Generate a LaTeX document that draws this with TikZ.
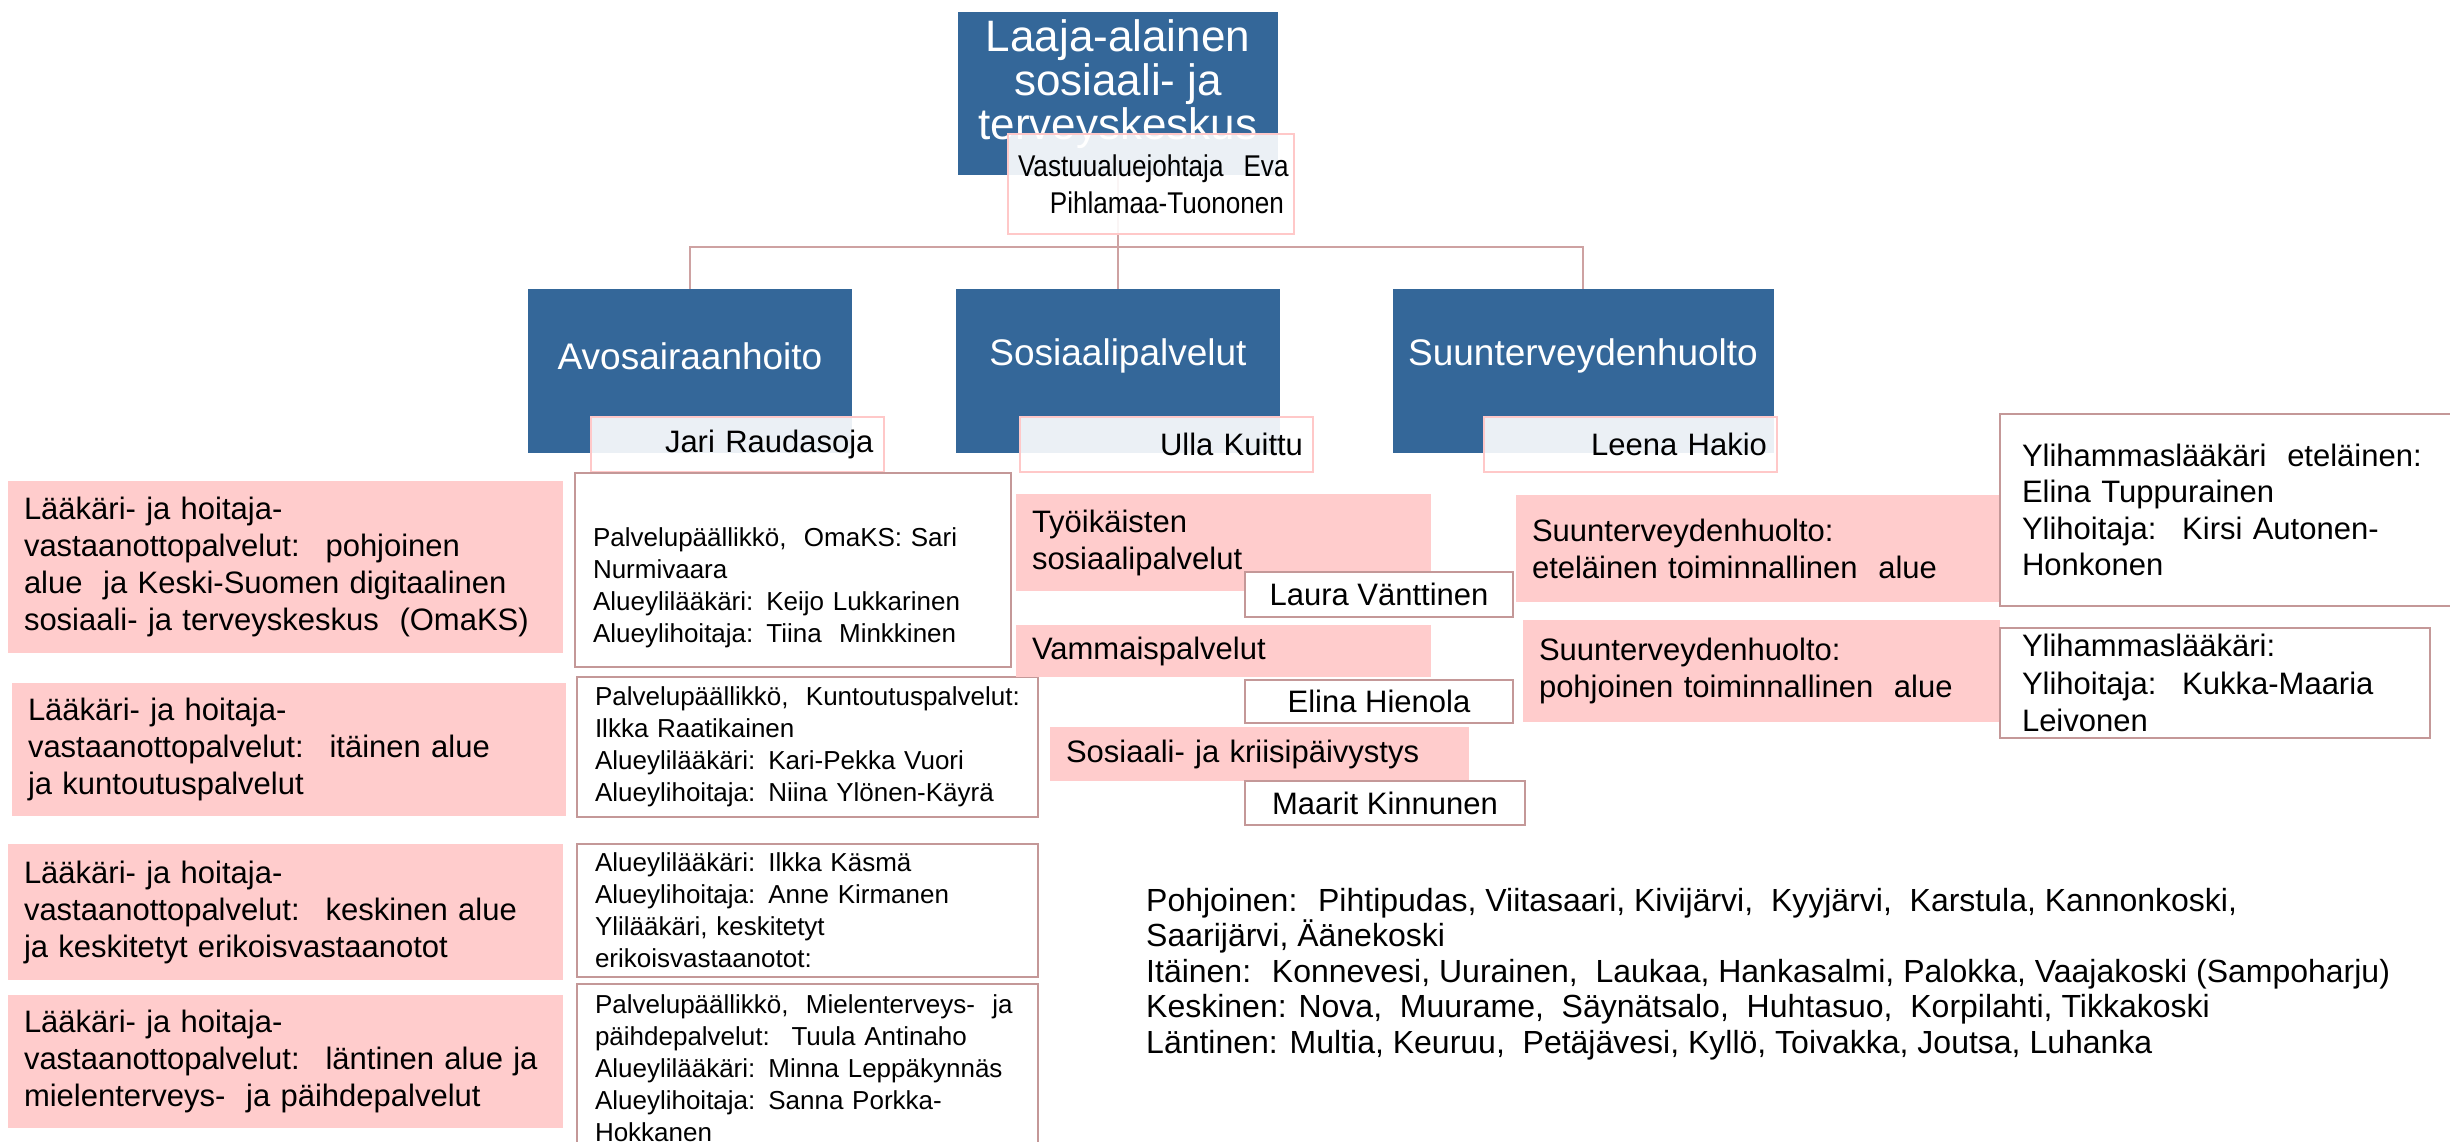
\documentclass[tikz,border=0pt]{standalone}
\usepackage{fontspec}
\setmainfont{Liberation Sans}
\newfontfamily\narrowsans{Liberation Sans}[FakeStretch=0.87]
\usepackage{tikz}

\definecolor{orgblue}{RGB}{52,103,153}
\definecolor{orgpink}{RGB}{255,204,204}
\definecolor{asstline}{RGB}{255,200,200}
\definecolor{infoline}{RGB}{196,152,152}
\definecolor{connline}{RGB}{206,162,162}

\tikzset{
  bluebox/.style={fill=orgblue,draw=none,inner sep=0,minimum width=324,minimum height=164},
  bluetext/.style={text=white,inner sep=0,font=\fontsize{37}{44}\selectfont},
  asstbox/.style={draw=asstline,line width=2,fill=white,fill opacity=0.9,text opacity=1,align=right,inner xsep=10,inner ysep=0,font=\fontsize{31}{37}\selectfont},
  pinkbox/.style={fill=orgpink,draw=none,align=left,inner xsep=16,inner ysep=0,font=\fontsize{31}{37}\selectfont},
  infobox/.style={draw=infoline,line width=2.5,fill=white,align=left,inner xsep=18,inner ysep=0,font=\fontsize{26}{32}\selectfont},
  namebox/.style={draw=infoline,line width=2.5,fill=white,inner sep=0,font=\fontsize{31}{37}\selectfont},
  conn/.style={draw=connline,line width=2.5}
}

\begin{document}
\begin{tikzpicture}[x=1pt,y=-1pt]
\useasboundingbox (0,0) rectangle (2450,1141);

% top of the chart
\node (top) at (1118,93.5) [bluebox,minimum width=320,minimum height=163] {};
\node (toplbl) at (1118,84) [bluetext,align=center,font=\fontsize{44}{44}\selectfont] {Laaja-alainen\\sosiaali- ja\\terveyskeskus};

% level 2 boxes
\node (avo) at (690,371) [bluebox] {};
\node (avolbl) at (690,356) [bluetext] {Avosairaanhoito};
\node (sos) at (1118,371) [bluebox] {};
\node (soslbl) at (1118,356) [bluetext] {Sosiaalipalvelut};
\node (suu) at (1583,371) [bluebox,minimum width=381] {};
\node (suulbl) at (1583,356) [bluetext] {Suunterveydenhuolto};

\coordinate (bus) at (1118,247);
\draw [conn] (top.south) -- (bus);
\draw [conn] (bus) -| (avo.north);
\draw [conn] (bus) -- (sos.north);
\draw [conn] (bus) -| (suu.north);

\node (eva) at (1151,184) [asstbox,text width=266,minimum height=100,font=\narrowsans\fontsize{30}{37}\selectfont] {Vastuualuejohtaja~ Eva\\\mbox{Pihlamaa-Tuononen}};
\node (jari) at (737,444.5) [asstbox,text width=273,minimum height=55] {Jari Raudasoja};
\node (ulla) at (1166.5,444.5) [asstbox,text width=273,minimum height=55] {Ulla Kuittu};
\node (leena) at (1630.5,444.5) [asstbox,text width=273,minimum height=55] {Leena Hakio};

% avosairaanhoito
\node (lvo1) at (285.5,567) [pinkbox,text width=523,minimum height=172] {L\"a\"ak\"ari- ja hoitaja-\\vastaanottopalvelut:~ pohjoinen\\alue~ ja Keski-Suomen digitaalinen\\sosiaali- ja terveyskeskus~ (OmaKS)};
\node (lvo2) at (289,749.5) [pinkbox,text width=522,minimum height=133] {L\"a\"ak\"ari- ja hoitaja-\\vastaanottopalvelut:~ it\"ainen alue\\ja kuntoutuspalvelut};
\node (lvo3) at (285.5,912) [pinkbox,text width=523,minimum height=136] {L\"a\"ak\"ari- ja hoitaja-\\vastaanottopalvelut:~ keskinen alue\\ja keskitetyt erikoisvastaanotot};
\node (lvo4) at (285.5,1061.5) [pinkbox,text width=523,minimum height=133] {L\"a\"ak\"ari- ja hoitaja-\\vastaanottopalvelut:~ l\"antinen alue ja\\mielenterveys-~ ja p\"aihdepalvelut};

\node (inf1) at (793,570) [infobox,text width=400,minimum height=194] {\strut\\Palvelup\"a\"allikk\"o,~ OmaKS: Sari\\Nurmivaara\\Alueylil\"a\"ak\"ari: Keijo Lukkarinen\\Alueylihoitaja: Tiina~ Minkkinen};
\node (inf2) at (807.5,747) [infobox,text width=425,minimum height=140] {Palvelup\"a\"allikk\"o,~ Kuntoutuspalvelut:\\Ilkka Raatikainen\\Alueylil\"a\"ak\"ari: Kari-Pekka Vuori\\Alueylihoitaja: Niina Yl\"onen-K\"ayr\"a};
\node (inf3) at (807.5,910.5) [infobox,text width=425,minimum height=133] {Alueylil\"a\"ak\"ari: Ilkka K\"asm\"a\\Alueylihoitaja: Anne Kirmanen\\Ylil\"a\"ak\"ari, keskitetyt\\erikoisvastaanotot:};
\node (inf4) at (807.5,1068) [infobox,text width=425,minimum height=168] {Palvelup\"a\"allikk\"o,~ Mielenterveys-~ ja\\p\"aihdepalvelut:~ Tuula Antinaho\\Alueylil\"a\"ak\"ari: Minna Lepp\"akynn\"as\\Alueylihoitaja: Sanna Porkka-\\Hokkanen};

% sosiaalipalvelut
\node (tyo) at (1223.5,542.5) [pinkbox,text width=383,minimum height=97] {Ty\"oik\"aisten\\sosiaalipalvelut};
\node (laura) at (1379,594.5) [namebox,minimum width=268,minimum height=45] {Laura V\"anttinen};
\node (vam) at (1223.5,651) [pinkbox,text width=383,minimum height=52] {Vammaispalvelut};
\node (elina) at (1379,701.5) [namebox,minimum width=268,minimum height=43] {Elina Hienola};
\node (kri) at (1259.5,754) [pinkbox,text width=387,minimum height=54] {Sosiaali- ja kriisip\"aivystys};
\node (maarit) at (1385,803) [namebox,minimum width=280,minimum height=44] {Maarit Kinnunen};

% suunterveydenhuolto
\node (etel) at (1758,548.5) [pinkbox,text width=452,minimum height=107] {Suunterveydenhuolto:\\etel\"ainen toiminnallinen~ alue};
\node (pohj) at (1761.5,671) [pinkbox,text width=445,minimum height=102] {Suunterveydenhuolto:\\pohjoinen toiminnallinen~ alue};
\node (ylie) at (2235,510) [infobox,font=\fontsize{31}{36.5}\selectfont,inner xsep=22,text width=426,minimum height=192] {Ylihammasl\"a\"ak\"ari~ etel\"ainen:\\Elina Tuppurainen\\Ylihoitaja:~ Kirsi Autonen-\\Honkonen};
\node (ylip) at (2215,683) [infobox,font=\fontsize{31}{37.5}\selectfont,inner xsep=22,text width=386,minimum height=110] {Ylihammasl\"a\"ak\"ari:\\Ylihoitaja:~ Kukka-Maaria\\Leivonen};

% kunnat
\node (kunnat) at (1146,888) [anchor=north west,align=left,inner sep=0,font=\fontsize{32}{35.5}\selectfont] {Pohjoinen:~ Pihtipudas, Viitasaari, Kivij\"arvi,~ Kyyj\"arvi,~ Karstula, Kannonkoski,\\Saarij\"arvi, \"A\"anekoski\\It\"ainen:~ Konnevesi, Uurainen,~ Laukaa, Hankasalmi, Palokka, Vaajakoski (Sampoharju)\\Keskinen: Nova,~ Muurame,~ S\"ayn\"atsalo,~ Huhtasuo,~ Korpilahti, Tikkakoski\\L\"antinen: Multia, Keuruu,~ Pet\"aj\"avesi, Kyll\"o, Toivakka, Joutsa, Luhanka};
\end{tikzpicture}
\end{document}
